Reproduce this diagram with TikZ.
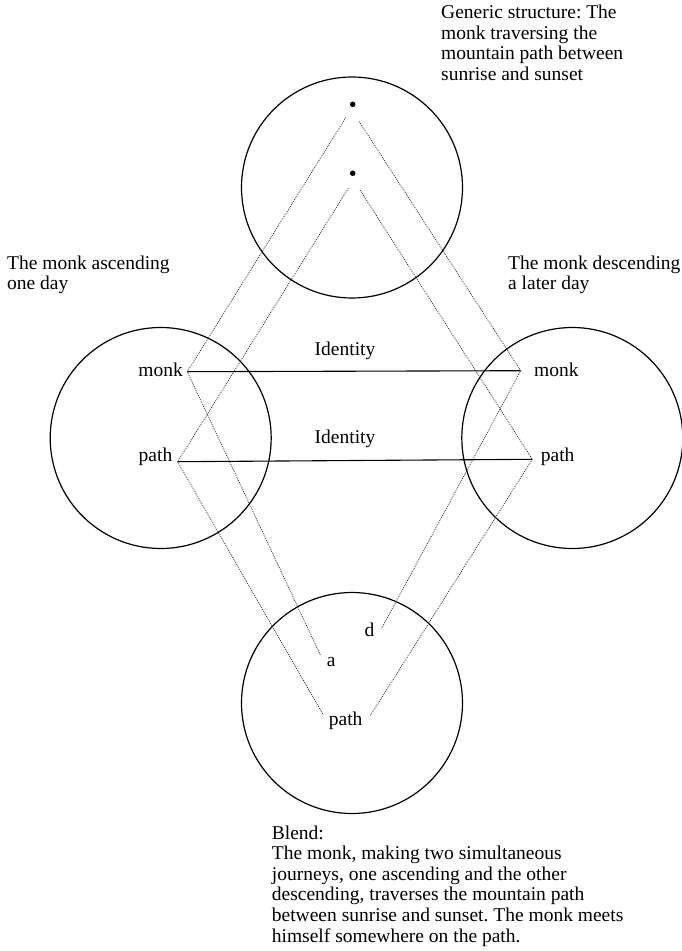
\documentclass[tikz,border=0pt]{standalone}
\usepackage{fontspec}
\setmainfont{Liberation Serif}
\frenchspacing
\newcommand{\stack}[1]{\begin{tabular}[t]{@{}l@{}}#1\end{tabular}}
\begin{document}
\begin{tikzpicture}[x=1pt,y=-1pt,
  ring/.style={draw, line width=1.2pt, circle, minimum size=221pt, inner sep=0pt},
  lbl/.style={inner sep=0pt, font=\fontsize{19.5}{20.6}\selectfont},
  dotmark/.style={circle, fill=black, minimum size=5.5pt, inner sep=0pt},
  mapping/.style={line width=0.75pt, black!85, dash pattern=on 0.9pt off 1.1pt},
  identity/.style={line width=1.1pt, black}]
  \useasboundingbox (0,0) rectangle (681,951);

  % the four mental spaces
  \node[ring] (generic) at (352,187.5) {};
  \node[ring] (input1) at (160.7,438) {};
  \node[ring] (input2) at (572.3,438) {};
  \node[ring] (blend) at (352,703) {};

  % space captions
  \node[lbl, anchor=base west] (genTxt) at (441,18.5)
    {\stack{Generic structure: The\\monk traversing the\\mountain path between\\sunrise and sunset}};
  \node[lbl, anchor=base west] (in1Txt) at (7,269)
    {\stack{The monk ascending\\one day}};
  \node[lbl, anchor=base west] (in2Txt) at (508,269)
    {\stack{The monk descending\\a later day}};
  \node[lbl, anchor=base west] (blendTxt) at (271.7,839)
    {\stack{Blend:\\The monk, making two simultaneous\\journeys, one ascending and the other\\descending, traverses the mountain path\\between sunrise and sunset. The monk meets\\himself somewhere on the path.}};

  % generic space elements
  \node[dotmark] (g1) at (352.7,104.3) {};
  \node[dotmark] (g2) at (352.7,173.3) {};
  \coordinate (g1L) at (345.7,117.7);
  \coordinate (g1R) at (359.3,121.7);
  \coordinate (g2L) at (348.3,188.3);
  \coordinate (g2R) at (360,190);

  % input space 1
  \node[lbl, anchor=base east] (monkL) at (183,376) {monk};
  \node[lbl, anchor=base east] (pathL) at (172.5,461) {path};
  \coordinate (mL) at (187.3,371.7);
  \coordinate (pL) at (177.7,461.7);

  % input space 2
  \node[lbl, anchor=base west] (monkR) at (534,376) {monk};
  \node[lbl, anchor=base west] (pathR) at (540.7,461) {path};
  \coordinate (mR) at (520.7,370.7);
  \coordinate (pR) at (532.3,459.3);

  % blended space
  \node[lbl, anchor=base west] (aTxt) at (326.7,666) {a};
  \node[lbl, anchor=base west] (dTxt) at (364.3,636.7) {d};
  \node[lbl, anchor=base west] (pathB) at (328.7,725) {path};
  \coordinate (aP) at (320.7,655.7);
  \coordinate (dP) at (381.7,628.3);
  \coordinate (bpL) at (323.3,715);
  \coordinate (bpR) at (370,716);

  % cross-space identity links
  \draw[identity] (mL) -- (mR);
  \draw[identity] (pL) -- (pR);
  \node[lbl, anchor=base west] (id1) at (314.5,355) {Identity};
  \node[lbl, anchor=base west] (id2) at (314.5,443.3) {Identity};

  % projections between spaces
  \draw[mapping] (g1L) -- (mL);
  \draw[mapping] (g1R) -- (mR);
  \draw[mapping] (g2L) -- (pL);
  \draw[mapping] (g2R) -- (pR);
  \draw[mapping] (mL) -- (aP);
  \draw[mapping] (pL) -- (bpL);
  \draw[mapping] (mR) -- (dP);
  \draw[mapping] (pR) -- (bpR);
\end{tikzpicture}
\end{document}
